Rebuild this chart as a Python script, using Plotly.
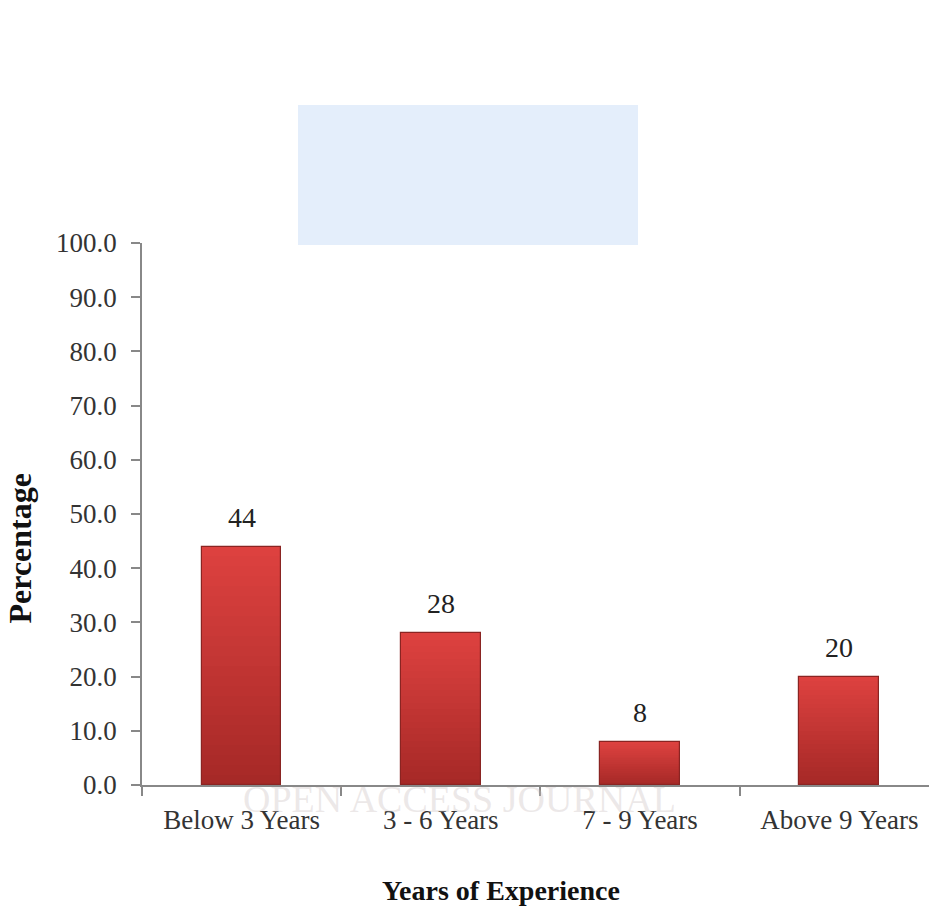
import plotly.graph_objects as go

# Survey data: respondents' years of experience (percent)
categories = ["Below 3 Years", "3 - 6 Years", "7 - 9 Years", "Above 9 Years"]
percentages = [44, 28, 8, 20]
y_ticks = [0, 10, 20, 30, 40, 50, 60, 70, 80, 90, 100]
y_tick_labels = [f"{v:.1f}" for v in y_ticks]

FONT = "Liberation Serif, Times New Roman, serif"

# Vertical shading for the bars: bottom (dark) to top (light)
bottom_rgb = (165, 40, 38)
top_rgb = (222, 66, 64)
N_BANDS = 24

fig = go.Figure()

for i in range(N_BANDS):
    t = (i + 0.5) / N_BANDS
    rgb = tuple(round(b + (tp - b) * t) for b, tp in zip(bottom_rgb, top_rgb))
    fig.add_trace(go.Bar(
        x=categories,
        y=[v / N_BANDS for v in percentages],
        base=[v * i / N_BANDS for v in percentages],
        width=0.4,
        marker=dict(color=f"rgb{rgb}", line=dict(width=0)),
        hoverinfo="skip",
        showlegend=False,
    ))

# Outline of each bar
fig.add_trace(go.Bar(
    x=categories,
    y=percentages,
    width=0.4,
    marker=dict(color="rgba(0,0,0,0)", line=dict(color="#8a2422", width=1.2)),
    showlegend=False,
))

# Value labels above bars
for c, v in zip(categories, percentages):
    fig.add_annotation(
        x=c, y=v, text=str(v), showarrow=False,
        yanchor="bottom", yshift=12,
        font=dict(family=FONT, size=28, color="#222"),
    )

# Axis titles
fig.add_annotation(
    xref="paper", yref="paper", x=-0.18, y=0.437,
    text="<b>Percentage</b>", textangle=-90, showarrow=False,
    font=dict(family=FONT, size=32, color="#111"),
)
fig.add_annotation(
    xref="paper", yref="paper", x=0.456, y=-0.227,
    text="<b>Years of Experience</b>", showarrow=False,
    font=dict(family=FONT, size=28, color="#111"),
)

# Faint background watermark
fig.add_shape(
    type="rect", xref="paper", yref="paper",
    x0=(298 - 142) / 787, x1=(638 - 142) / 787,
    y0=(785 - 245) / 542, y1=(785 - 105) / 542,
    fillcolor="#e4eefb", line=dict(width=0), layer="below",
)
fig.add_annotation(
    xref="paper", yref="paper", x=0.404, y=-0.068,
    text="OPEN ACCESS JOURNAL", showarrow=False,
    font=dict(family=FONT, size=38, color="rgba(200,190,190,0.35)"),
)

fig.update_layout(
    width=929, height=915,
    margin=dict(l=142, r=0, t=243, b=130),
    paper_bgcolor="white", plot_bgcolor="rgba(0,0,0,0)",
    barmode="overlay",
    bargap=0,
    font=dict(family=FONT, size=27, color="#333"),
    showlegend=False,
)

fig.update_xaxes(
    type="category",
    categoryorder="array", categoryarray=categories,
    range=[-0.5, 3.45],
    showline=True, linecolor="#888", linewidth=1.5,
    ticks="outside", tickson="boundaries", ticklen=9, tickcolor="#888", tickwidth=1.5,
    ticklabelstandoff=10,
    tickfont=dict(family=FONT, size=27, color="#333"),
    showgrid=False, zeroline=False,
)

fig.update_yaxes(
    range=[0, 100],
    tickmode="array", tickvals=y_ticks, ticktext=y_tick_labels,
    showline=True, linecolor="#888", linewidth=1.5,
    ticks="outside", ticklen=9, tickcolor="#888", tickwidth=1.5,
    ticklabelstandoff=9,
    tickfont=dict(family=FONT, size=27, color="#333"),
    showgrid=False, zeroline=False,
)

fig.write_html("out.html")
